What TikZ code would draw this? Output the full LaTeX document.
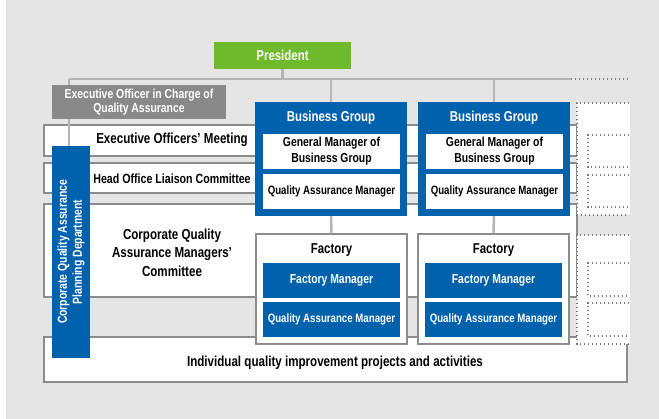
\documentclass[tikz,border=0pt]{standalone}
\usepackage{fontspec}
\setmainfont{Liberation Sans}[FakeStretch=0.8]
\definecolor{bg}{HTML}{E5E5E5}
\definecolor{lgray}{HTML}{B5B5B5}
\definecolor{bgray}{HTML}{8C8C8C}
\definecolor{dgray}{HTML}{898989}
\definecolor{qblue}{HTML}{0061AD}
\definecolor{pgreen}{HTML}{6EBA2C}
\definecolor{dotc}{HTML}{7A7A7A}
\tikzset{
  rowbox/.style={draw=bgray, fill=white, line width=1.3pt, inner sep=0pt},
  conn/.style={draw=lgray, line width=2.5pt},
  dotline/.style={draw=dotc, line width=1.6pt, dash pattern=on 1.2pt off 2.8pt},
  bluebox/.style={fill=qblue, inner sep=0pt},
  whitebox/.style={fill=white, inner sep=0pt, text=black, font=\bfseries\fontsize{13}{16}\selectfont, align=center},
  bluein/.style={fill=qblue, inner sep=0pt, text=white, font=\bfseries\fontsize{13}{16}\selectfont, align=center},
  factbox/.style={draw=bgray, fill=white, line width=1.5pt, inner sep=0pt},
  rowtext/.style={font=\bfseries\fontsize{14.5}{18.5}\selectfont, align=center, inner sep=0pt},
  titletext/.style={font=\bfseries\fontsize{14.3}{16}\selectfont, inner sep=0pt},
  qamtext/.style={font=\bfseries\fontsize{12.1}{14}\selectfont},
}
\begin{document}
\begin{tikzpicture}[x=1pt,y=-1pt]
\useasboundingbox (0,0) rectangle (659,419);
\fill[bg] (6,0) rectangle (659,419);
% rows
\node[rowbox, minimum width=533pt, minimum height=31pt] (row1) at (310.5,140.5) {};
\node[rowbox, minimum width=533pt, minimum height=30pt] (row2) at (310.5,178) {};
\node[rowbox, minimum width=533pt, minimum height=93pt] (row3) at (310.5,250.5) {};
\node[rowbox, minimum width=583pt, minimum height=45pt] (row4) at (335.5,359.5) {};
\node[rowtext] (t1) at (172,140) {Executive Officers’ Meeting};
\node[rowtext, font=\bfseries\fontsize{13.3}{16}\selectfont] (t2) at (172,179) {Head Office Liaison Committee};
\node[rowtext] (t3) at (172,252.5) {Corporate Quality\\Assurance Managers’\\Committee};
\node[rowtext] (t4) at (335,363) {Individual quality improvement projects and activities};
% dotted panels
\fill[white] (577,103) rectangle (630,215);
\draw[dotline] (629,103) -- (577,103) -- (577,215) -- (629,215);
\draw[dotline] (629,135) -- (588,135) -- (588,167) -- (629,167);
\draw[dotline] (629,175) -- (588,175) -- (588,207) -- (629,207);
\fill[white] (577,235) rectangle (630,344);
\draw[dotline] (629,235) -- (577,235) -- (577,344) -- (629,344);
\draw[dotline] (629,263) -- (588,263) -- (588,296) -- (629,296);
\draw[dotline] (629,303) -- (588,303) -- (588,336) -- (629,336);
% main boxes
\node[fill=pgreen, inner sep=0pt, minimum width=137pt, minimum height=27pt, text=white, titletext] (pres) at (282.5,55.5) {President};
\coordinate (jl) at (69,79);
\coordinate (jr) at (571,79);
\coordinate (je) at (630,79);
\node[bluebox, minimum width=152pt, minimum height=114pt] (g1) at (331,159) {};
\node[bluebox, minimum width=152pt, minimum height=114pt] (g2) at (494,159) {};
\node[factbox, minimum width=151pt, minimum height=110pt] (f1) at (331.5,289) {};
\node[factbox, minimum width=151pt, minimum height=110pt] (f2) at (493.5,289) {};
\node[bluebox, minimum width=38pt, minimum height=212pt] (cqa) at (71,252) {};
% connectors
\draw[conn] (pres.south) -- (pres.south |- jl);
\draw[conn] (jl) -- (jr);
\draw[dotline] (jr) -- (je);
\draw[conn] (jl) -- (cqa.north -| jl);
\draw[conn] (g1.north) -- (g1.north |- jl);
\draw[conn] (g2.north) -- (g2.north |- jl);
\draw[conn] (g1.south) -- (f1.north);
\draw[conn] (g2.south) -- (f2.north);
% boxes drawn over the connectors
\node[fill=dgray, inner sep=0pt, minimum width=174pt, minimum height=34pt, text=white, align=center, font=\bfseries\fontsize{13}{14}\selectfont] (exo) at (139,102.5) {Executive Officer in Charge of\\Quality Assurance};
\node[bluebox, minimum width=38pt, minimum height=212pt] at (cqa) {};
\node[rotate=90, text=white, align=center, inner sep=0pt, font=\bfseries\fontsize{13}{15}\selectfont] (cqat) at (71,252) {Corporate Quality Assurance\\Planning Department};
% group contents
\node[text=white, titletext] (g1t) at (331,118) {Business Group};
\node[text=white, titletext] (g2t) at (494,118) {Business Group};
\node[whitebox, minimum width=137pt, minimum height=35pt] (g1a) at (331.5,151.5) {General Manager of\\Business Group};
\node[whitebox, qamtext, minimum width=137pt, minimum height=35pt] (g1b) at (331.5,191.5) {Quality Assurance Manager};
\node[whitebox, minimum width=137pt, minimum height=35pt] (g2a) at (494.5,151.5) {General Manager of\\Business Group};
\node[whitebox, qamtext, minimum width=137pt, minimum height=35pt] (g2b) at (494.5,191.5) {Quality Assurance Manager};
% factory contents
\node[titletext] (f1t) at (331.5,250) {Factory};
\node[titletext] (f2t) at (493.5,250) {Factory};
\node[bluein, minimum width=137pt, minimum height=35pt] (f1a) at (331.5,280.5) {Factory Manager};
\node[bluein, qamtext, minimum width=137pt, minimum height=35pt] (f1b) at (331.5,319.5) {Quality Assurance Manager};
\node[bluein, minimum width=137pt, minimum height=35pt] (f2a) at (493.5,280.5) {Factory Manager};
\node[bluein, qamtext, minimum width=137pt, minimum height=35pt] (f2b) at (493.5,319.5) {Quality Assurance Manager};
\end{tikzpicture}
\end{document}
